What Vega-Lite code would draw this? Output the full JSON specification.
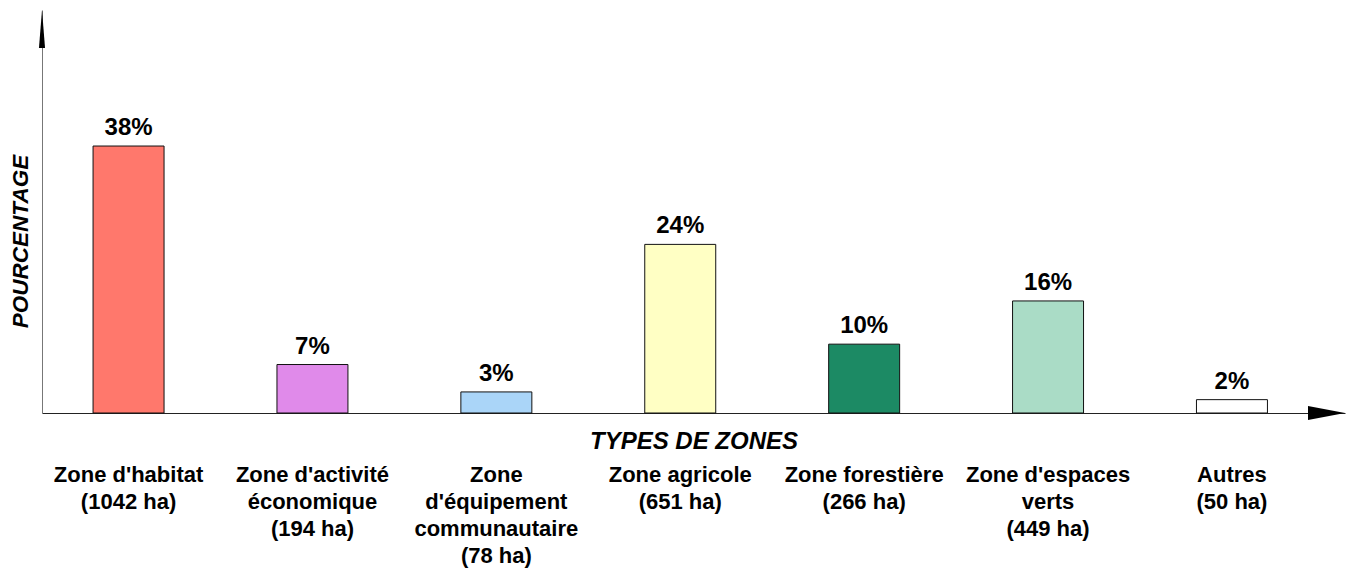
{
  "$schema": "https://vega.github.io/schema/vega-lite/v6.json",
  "autosize": "none",
  "width": 1303,
  "height": 403,
  "padding": {"left": 42, "top": 10, "right": 5, "bottom": 157},
  "background": "white",
  "config": {
    "view": {"stroke": null},
    "font": "Liberation Sans"
  },
  "data": {
    "values": [
      {"zone": "Zone d'habitat|(1042 ha)", "pct": 38, "label": "38%"},
      {"zone": "Zone d'activité|économique|(194 ha)", "pct": 6.9, "label": "7%"},
      {"zone": "Zone|d'équipement|communautaire|(78 ha)", "pct": 3, "label": "3%"},
      {"zone": "Zone agricole|(651 ha)", "pct": 24, "label": "24%"},
      {"zone": "Zone forestière|(266 ha)", "pct": 9.8, "label": "10%"},
      {"zone": "Zone d'espaces|verts|(449 ha)", "pct": 15.95, "label": "16%"},
      {"zone": "Autres|(50 ha)", "pct": 1.9, "label": "2%"}
    ]
  },
  "layer": [
    {
      "layer": [
        {
          "mark": {"type": "bar", "stroke": "#111111", "strokeWidth": 1},
          "encoding": {
            "color": {
              "field": "zone", "type": "nominal", "sort": null, "legend": null,
              "scale": {
                "domain": [
                  "Zone d'habitat|(1042 ha)",
                  "Zone d'activité|économique|(194 ha)",
                  "Zone|d'équipement|communautaire|(78 ha)",
                  "Zone agricole|(651 ha)",
                  "Zone forestière|(266 ha)",
                  "Zone d'espaces|verts|(449 ha)",
                  "Autres|(50 ha)"
                ],
                "range": ["#FF786C", "#E08AEA", "#AAD5F8", "#FFFFC4", "#1C8A64", "#AADCC6", "#FFFFFF"]
              }
            }
          }
        },
        {
          "mark": {"type": "text", "baseline": "alphabetic", "dy": -11, "fontSize": 24, "fontWeight": "bold", "color": "#000000"},
          "encoding": {
            "text": {"field": "label"}
          }
        }
      ],
      "encoding": {
        "x": {
          "field": "zone", "type": "nominal", "sort": null,
          "scale": {"paddingInner": 0.614, "paddingOuter": 0.3497, "align": 0.397},
          "axis": {
            "title": "TYPES DE ZONES",
            "titleFont": "Liberation Sans",
            "titleFontSize": 24,
            "titleFontWeight": "bold",
            "titleFontStyle": "italic",
            "titleColor": "#000000",
            "titleY": 35,
            "titleBaseline": "alphabetic",
            "labelExpr": "split(datum.label, '|')",
            "labelAngle": 0,
            "labelFontSize": 22,
            "labelFontWeight": "bold",
            "labelColor": "#000000",
            "labelLineHeight": 27,
            "labelPadding": 51,
            "labelBaseline": "top",
            "labelAlign": "center",
            "ticks": false,
            "domainColor": "#222222",
            "domainWidth": 1.2,
            "grid": false
          }
        },
        "y": {
          "field": "pct", "type": "quantitative",
          "scale": {"domain": [0, 57.36], "nice": false, "zero": true},
          "axis": {
            "title": "POURCENTAGE",
            "titleFontSize": 22.5,
            "titleFontWeight": "bold",
            "titleFontStyle": "italic",
            "titleColor": "#000000",
            "titleAngle": 270,
            "titleX": -22,
            "titleY": 231,
            "titleBaseline": "middle",
            "titleAlign": "center",
            "labels": false,
            "ticks": false,
            "grid": false,
            "domainColor": "#777777",
            "domainWidth": 1
          }
        }
      }
    },
    {
      "data": {"values": [{"pos": 1, "val": 0}]},
      "mark": {"type": "point", "shape": "M0,0 L-2,-0.38 L-2,0.38 Z", "size": 1369, "filled": true, "color": "#000000", "opacity": 1, "strokeWidth": 0},
      "encoding": {
        "x": {"field": "pos", "type": "quantitative", "scale": {"domain": [0, 1], "nice": false}, "axis": null},
        "y": {"field": "val", "type": "quantitative"}
      }
    },
    {
      "data": {"values": [{"pos": 0, "val": 57.36}]},
      "mark": {"type": "point", "shape": "M0,0 L-0.16,2 L0.16,2 Z", "size": 1444, "filled": true, "color": "#000000", "opacity": 1, "strokeWidth": 0},
      "encoding": {
        "x": {"field": "pos", "type": "quantitative", "scale": {"domain": [0, 1], "nice": false}, "axis": null},
        "y": {"field": "val", "type": "quantitative"}
      }
    }
  ],
  "resolve": {"scale": {"x": "independent"}, "axis": {"x": "independent"}}
}
